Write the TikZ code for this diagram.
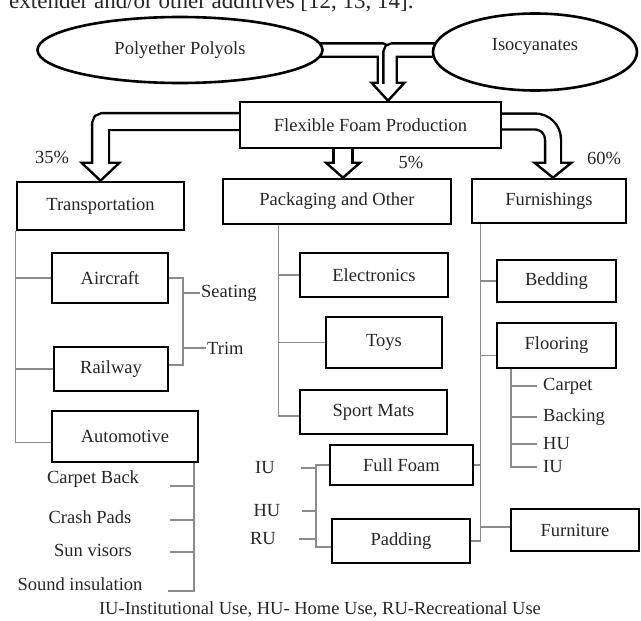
\documentclass[tikz,border=0pt]{standalone}
\usepackage{fontspec}
\setmainfont{Liberation Serif}
\usetikzlibrary{shapes.geometric,backgrounds}

\tikzset{
  bigbox/.style={draw, line width=2.6pt, fill=white},
  subbox/.style={draw, line width=2.1pt, fill=white},
  source/.style={ellipse, draw, line width=2.6pt, fill=white},
  branch/.style={draw=black!45, line width=1.3pt},
  pipe/.style={draw, line width=2.4pt, double=white, double distance=#1},
  pipe/.default=11pt,
  head/.style={draw, fill=white, line width=2.4pt, line join=miter},
}

\begin{document}
\begin{tikzpicture}[x=1pt,y=-1pt, every node/.style={font=\fontsize{18.5}{20}\selectfont, text=black!85, inner sep=1pt}]
        \useasboundingbox (0,0) rectangle (641,621);
        \node[anchor=base west, font=\fontsize{23}{26}\selectfont] (intro) at (8,9) {extender and/or other additives [12, 13, 14].};

        % raw materials and production
        \node[source, minimum width=285pt, minimum height=66pt] (poly) at (180,50) {Polyether Polyols};
        \node[source, minimum width=204pt, minimum height=77pt, text depth=15pt] (iso) at (535,52) {Isocyanates};
        \node[bigbox, minimum width=261pt, minimum height=46pt] (ffp) at (370.5,125) {Flexible Foam Production};

        % market sectors
        \node[bigbox, minimum width=167pt, minimum height=48pt] (trans) at (100.5,206) {Transportation};
        \node[bigbox, minimum width=228pt, minimum height=45pt] (pack) at (337,201.5) {Packaging and Other};
        \node[bigbox, minimum width=154pt, minimum height=44pt] (furn) at (549,201) {Furnishings};
        \node (p35) at (52,157) {35\%};
        \node (p5) at (411,162) {5\%};
        \node (p60) at (604,158) {60\%};

        % block arrows
        \begin{scope}[on background layer]
        \coordinate (t0) at ([xshift=17.5pt]ffp.north);
        \coordinate (t5) at ([xshift=6pt]pack.north);
        \draw[head] (t0) -- ++(-16.5,-18) -- ++(33,0) -- cycle;
        \draw[pipe, rounded corners=3pt] (poly.center) -| ([xshift=-3.5pt,yshift=16.8pt]t0);
        \draw[pipe, rounded corners=3pt] (iso.center |- poly.center) -| ([xshift=2pt,yshift=16.8pt]t0);
        \draw[head] (trans.north) -- ++(-19,-18) -- ++(38,0) -- cycle;
        \draw[pipe=14.5pt, rounded corners=3pt] ([yshift=3.5pt]ffp.center) -| ([yshift=16.8pt]trans.north);
        \draw[head] (t5) -- ++(-17,-15) -- ++(34,0) -- cycle;
        \draw[pipe=16.5pt] (t5 |- ffp.center) -- ([yshift=13.8pt]t5);
        \draw[head] ([xshift=4pt]furn.north) -- ++(-18.5,-15) -- ++(37,0) -- cycle;
        \draw[pipe=13.5pt, rounded corners=18pt] ([yshift=3.5pt]ffp.center) -| ([xshift=4pt,yshift=13.8pt]furn.north);
        \end{scope}

        % transportation
        \node[subbox, minimum width=116pt, minimum height=50pt] (air) at (110,278) {Aircraft};
        \node[subbox, minimum width=114pt, minimum height=44pt] (rail) at (111,369) {Railway};
        \node[subbox, minimum width=146pt, minimum height=51pt] (autom) at (125,436.5) {Automotive};
        \draw[branch] (trans.south west) |- ([yshift=-6pt]autom.west);
        \draw[branch] (air.west) -- (air.west -| trans.south west);
        \draw[branch] (rail.west) -- (rail.west -| trans.south west);
        \draw[branch] (air.east) -- ++(14,0) coordinate (brk) |- ([yshift=4pt]rail.east);
        \node[anchor=west] (seat) at (200,293) {Seating};
        \node[anchor=west] (trim) at (206,348) {Trim};
        \draw[branch] (brk |- seat.west) -- (seat.west);
        \draw[branch] (brk |- trim.west) -- (trim.west);
        \node (cb) at (93,479) {Carpet Back};
        \node (cp) at (90,517) {Crash Pads};
        \node (sv) at (93,550) {Sun visors};
        \node (si) at (80,584) {Sound insulation};
        \coordinate (aline) at ([xshift=-5pt]autom.south east);
        \draw[branch] (aline) -- ++(0,128) -- ++(-26,0);
        \foreach \y in {486,520,552}
            \draw[branch] (170,\y) -- (aline |- 0,\y);

        % packaging and other
        \node[subbox, minimum width=148pt, minimum height=44pt] (elec) at (374,275) {Electronics};
        \node[subbox, minimum width=116pt, minimum height=51pt] (toys) at (384,342.5) {Toys};
        \node[subbox, minimum width=147pt, minimum height=44pt] (sport) at (373.5,412) {Sport Mats};
        \coordinate (pline) at ([xshift=57pt]pack.south west);
        \draw[branch] (pline) |- ([yshift=-4pt]sport.west);
        \draw[branch] (elec.west) -- (elec.west -| pline);
        \draw[branch] (toys.west) -- (toys.west -| pline);

        % full foam and padding
        \node[subbox, minimum width=143pt, minimum height=40pt] (full) at (401.5,465) {Full Foam};
        \node[subbox, minimum width=138pt, minimum height=44pt] (pad) at (401,541) {Padding};
        \draw[branch] (full.west) -- ++(-13,0) coordinate (uline) |- ([yshift=-6pt]pad.west);
        \node (iu) at (265,468) {IU};
        \node (hu) at (267,511) {HU};
        \node (ru) at (263,539) {RU};
        \draw[branch] ([xshift=-15pt]uline |- iu) -- (uline |- iu);
        \draw[branch] ([xshift=-14pt]uline |- hu) -- (uline |- hu);
        \draw[branch] ([xshift=-17pt]uline |- ru) -- (uline |- ru);

        % furnishings
        \node[subbox, minimum width=119pt, minimum height=42pt] (bed) at (556.5,281) {Bedding};
        \node[subbox, minimum width=119pt, minimum height=45pt] (floor) at (556.5,345.5) {Flooring};
        \node[subbox, minimum width=128pt, minimum height=42pt] (furni) at (575,530) {Furniture};
        \coordinate (fline) at ([xshift=10pt]furn.south west);
        \draw[branch] (fline) |- (pad.east);
        \draw[branch] (bed.west) -- (bed.west -| fline);
        \draw[branch] ([yshift=-10pt]floor.west) -- ([yshift=-10pt]floor.west -| fline);
        \draw[branch] (full.east) -- (full.east -| fline);
        \draw[branch] ([yshift=3pt]furni.west) -- ([yshift=3pt]furni.west -| fline);
        \node[anchor=west] (carpet) at (542,386) {Carpet};
        \node[anchor=west] (backing) at (542,417) {Backing};
        \node[anchor=west] (hu2) at (542,444) {HU};
        \node[anchor=west] (iu2) at (542,467) {IU};
        \coordinate (lline) at ([xshift=15pt]floor.south west);
        \draw[branch] (lline) |- ([xshift=-5pt]iu2.west);
        \foreach \n in {carpet,backing,hu2}
            \draw[branch] ([xshift=-5pt]\n.west) -- (lline |- \n.west);

        \node (note) at (320,610) {IU-Institutional Use, HU- Home Use, RU-Recreational Use};
    \end{tikzpicture}
\end{document}
